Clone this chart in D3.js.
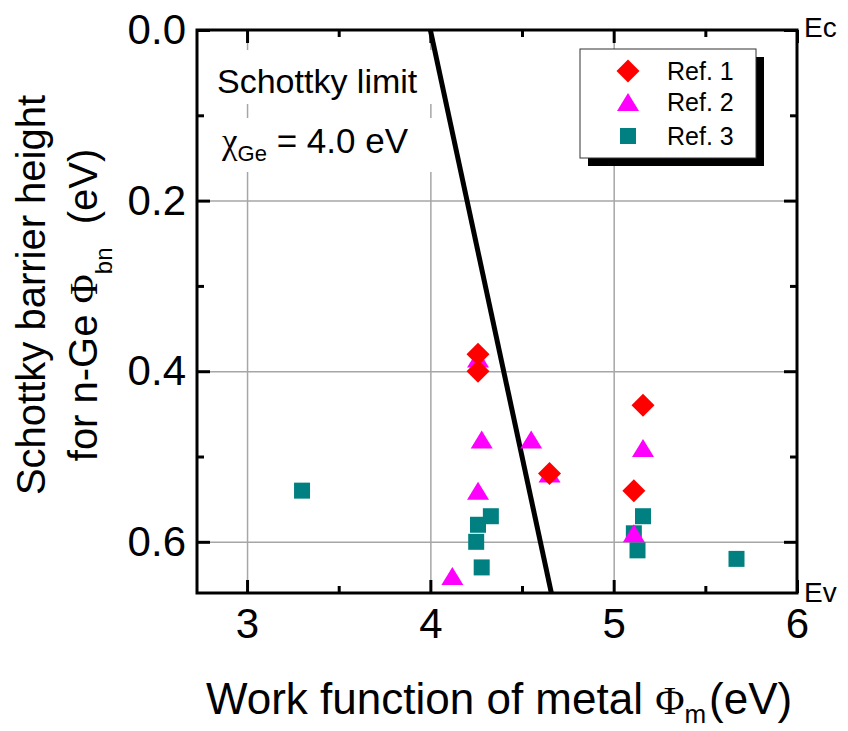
<html lang="en">
<head>
    <meta charset="UTF-8">
    <title>Schottky barrier height vs work function</title>
    <script src="https://d3js.org/d3.v7.min.js"></script>
    <style>
        body { margin: 0; background: white; }
        svg { font-family: "Liberation Sans", Arial, sans-serif; background: white; }
    </style>
</head>
<body>
    <script>
        // Ref. 1 (red diamonds)
        const ref1X = [4.26, 4.26, 5.16, 4.65, 5.11];
        const ref1Y = [0.38, 0.40, 0.44, 0.52, 0.54];
        // Ref. 2 (magenta triangles)
        const ref2X = [4.26, 4.28, 4.55, 5.16, 4.65, 4.26, 5.11, 4.12];
        const ref2Y = [0.385, 0.48, 0.48, 0.49, 0.52, 0.54, 0.59, 0.64];
        // Ref. 3 (teal squares)
        const ref3X = [3.30, 4.33, 4.26, 4.25, 4.28, 5.16, 5.11, 5.13, 5.67];
        const ref3Y = [0.54, 0.57, 0.58, 0.60, 0.63, 0.57, 0.59, 0.61, 0.62];
        // Schottky limit: phi_bn = phi_m - chi(4.0)
        const limitX = [4.0, 4.66];
        const limitY = [0.0, 0.66];

        const xTicks = [3, 4, 5, 6];
        const xMinor = [3.5, 4.5, 5.5];
        const yTicks = [0.0, 0.2, 0.4, 0.6];
        const yMinor = [0.1, 0.3, 0.5];
        const legendNames = ['Ref. 1', 'Ref. 2', 'Ref. 3'];

        const w = 848, h = 731;
        const pLeft = 197, pRight = 797, pTop = 30, pBottom = 593;

        const xScale = d3.scaleLinear().domain([2.727, 6]).range([pLeft, pRight]);
        const yScale = d3.scaleLinear().domain([0, 0.66]).range([pTop, pBottom]);

        const svg = d3.select('body').append('svg')
            .attr('width', w)
            .attr('height', h);

        // grid
        svg.append('g').attr('class', 'grid')
            .attr('transform', `translate(0,${pBottom})`)
            .call(d3.axisBottom(xScale).tickValues([3, 4, 5]).tickSize(-(pBottom - pTop)).tickFormat(''))
            .call(g => g.select('.domain').remove());
        svg.append('g').attr('class', 'grid')
            .attr('transform', `translate(${pLeft},0)`)
            .call(d3.axisLeft(yScale).tickValues([0.2, 0.4, 0.6]).tickSize(-(pRight - pLeft)).tickFormat(''))
            .call(g => g.select('.domain').remove());
        svg.selectAll('.grid line').style('stroke', '#a6a6a6').style('stroke-width', 1.5);

        // text boxes
        svg.append('rect').attr('x', 210).attr('y', 50).attr('width', 226).attr('height', 54).attr('fill', 'white');
        svg.append('rect').attr('x', 210).attr('y', 118).attr('width', 226).attr('height', 54).attr('fill', 'white');

        svg.append('text')
            .attr('x', 217).attr('y', 93)
            .style('font-size', '34px')
            .text('Schottky limit');

        const chi = svg.append('text')
            .attr('x', 222).attr('y', 153)
            .style('font-size', '35px');
        chi.append('tspan').style('font-family', '"Liberation Serif", serif').text('χ');
        chi.append('tspan').attr('dy', 8).style('font-size', '22px').text('Ge');
        chi.append('tspan').attr('dy', -8).text(' = 4.0 eV');

        // Schottky limit line
        svg.append('path')
            .datum(d3.zip(limitX, limitY))
            .attr('d', d3.line().x(d => xScale(d[0])).y(d => yScale(d[1])))
            .attr('stroke', 'black')
            .attr('stroke-width', 5)
            .attr('fill', 'none');

        // markers
        function diamond(r) { return `M0,${-r}L${r},0L0,${r}L${-r},0Z`; }
        function triangle(tw, th) { return `M0,${-th / 2}L${tw / 2},${th / 2}L${-tw / 2},${th / 2}Z`; }
        function square(s) { return `M${-s / 2},${-s / 2}h${s}v${s}h${-s}Z`; }

        const series = [
            { xs: ref3X, ys: ref3Y, shape: square(16), color: '#008080' },
            { xs: ref2X, ys: ref2Y, shape: triangle(22, 18), color: '#ff00ff' },
            { xs: ref1X, ys: ref1Y, shape: diamond(11.5), color: '#ff0000' }
        ];
        series.forEach(s => {
            svg.append('g').selectAll('path')
                .data(d3.zip(s.xs, s.ys))
                .enter()
                .append('path')
                .attr('transform', d => `translate(${xScale(d[0])},${yScale(d[1])})`)
                .attr('d', s.shape)
                .attr('fill', s.color);
        });

        // axes (ticks point inwards)
        const bottomAxis = svg.append('g').attr('class', 'axis')
            .attr('transform', `translate(0,${pBottom})`)
            .call(d3.axisBottom(xScale).tickValues(xTicks).tickSize(-13).tickSizeOuter(0).tickPadding(15).tickFormat(d3.format('d')));
        svg.append('g').attr('class', 'axis')
            .attr('transform', `translate(0,${pBottom})`)
            .call(d3.axisBottom(xScale).tickValues(xMinor).tickSize(-7).tickSizeOuter(0).tickFormat(''));
        svg.append('g').attr('class', 'axis')
            .attr('transform', `translate(0,${pTop})`)
            .call(d3.axisTop(xScale).tickValues(xTicks).tickSize(-13).tickSizeOuter(0).tickFormat(''));
        svg.append('g').attr('class', 'axis')
            .attr('transform', `translate(0,${pTop})`)
            .call(d3.axisTop(xScale).tickValues(xMinor).tickSize(-7).tickSizeOuter(0).tickFormat(''));

        const leftAxis = svg.append('g').attr('class', 'axis')
            .attr('transform', `translate(${pLeft},0)`)
            .call(d3.axisLeft(yScale).tickValues(yTicks).tickSize(-13).tickSizeOuter(0).tickPadding(11).tickFormat(d3.format('.1f')));
        svg.append('g').attr('class', 'axis')
            .attr('transform', `translate(${pLeft},0)`)
            .call(d3.axisLeft(yScale).tickValues(yMinor).tickSize(-7).tickSizeOuter(0).tickFormat(''));
        svg.append('g').attr('class', 'axis')
            .attr('transform', `translate(${pRight},0)`)
            .call(d3.axisRight(yScale).tickValues(yTicks).tickSize(-13).tickSizeOuter(0).tickFormat(''));
        svg.append('g').attr('class', 'axis')
            .attr('transform', `translate(${pRight},0)`)
            .call(d3.axisRight(yScale).tickValues(yMinor).tickSize(-7).tickSizeOuter(0).tickFormat(''));

        svg.selectAll('.axis .domain').remove();
        svg.selectAll('.axis .tick line').style('stroke', 'black').style('stroke-width', 3);
        bottomAxis.selectAll('text').style('font-size', '42px').style('font-family', '"Liberation Sans", Arial, sans-serif').attr('fill', 'black');
        leftAxis.selectAll('text').style('font-size', '42px').style('font-family', '"Liberation Sans", Arial, sans-serif').attr('fill', 'black');

        // frame
        svg.append('rect')
            .attr('x', pLeft).attr('y', pTop)
            .attr('width', pRight - pLeft).attr('height', pBottom - pTop)
            .attr('fill', 'none')
            .attr('stroke', 'black')
            .attr('stroke-width', 3);

        // Ec / Ev
        svg.append('text').attr('x', 804).attr('y', 37).style('font-size', '28px').text('Ec');
        svg.append('text').attr('x', 804).attr('y', 602).style('font-size', '28px').text('Ev');

        // axis titles
        const xt = svg.append('text')
            .attr('x', 206).attr('y', 714)
            .style('font-size', '44px');
        xt.append('tspan').text('Work function of metal ');
        xt.append('tspan').style('font-family', '"Liberation Serif", serif').style('font-size', '40px').text('Φ');
        xt.append('tspan').attr('dy', 9).style('font-size', '26px').text('m');
        xt.append('tspan').attr('dy', -9).attr('dx', 3).text('(eV)');

        const yt = svg.append('g').attr('transform', 'rotate(-90)');
        yt.append('text')
            .attr('x', -295).attr('y', 45)
            .attr('text-anchor', 'middle')
            .style('font-size', '40px')
            .text('Schottky barrier height');
        const yt2 = yt.append('text')
            .attr('x', -305).attr('y', 97)
            .attr('text-anchor', 'middle')
            .style('font-size', '40px');
        yt2.append('tspan').text('for n-Ge ');
        yt2.append('tspan').style('font-family', '"Liberation Serif", serif').text('Φ');
        yt2.append('tspan').attr('dy', 15).style('font-size', '24px').text('bn');
        yt2.append('tspan').attr('dy', -15).attr('dx', 12).text(' (eV)');

        // legend
        const lx = 580, ly = 49, lw = 176, lh = 109;
        svg.append('rect').attr('x', lx + 8).attr('y', ly + 8).attr('width', lw).attr('height', lh).attr('fill', 'black');
        svg.append('rect').attr('x', lx).attr('y', ly).attr('width', lw).attr('height', lh)
            .attr('fill', 'white').attr('stroke', '#333').attr('stroke-width', 1);

        const legendRows = [71, 102, 136];
        const legendSeries = [series[2], series[1], series[0]];
        const legend = svg.append('g').selectAll('g')
            .data(legendNames)
            .enter()
            .append('g')
            .attr('transform', (d, i) => `translate(0,${legendRows[i]})`);
        legend.append('path')
            .attr('transform', 'translate(628,0)')
            .attr('d', (d, i) => legendSeries[i].shape)
            .attr('fill', (d, i) => legendSeries[i].color);
        legend.append('text')
            .attr('x', 667)
            .attr('dy', '0.36em')
            .style('font-size', '25px')
            .text(d => d);
    </script>
</body>
</html>
